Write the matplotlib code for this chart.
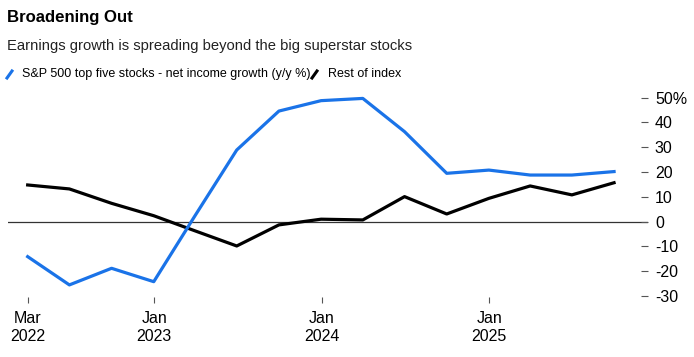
import pandas as pd
import matplotlib.pyplot as plt
from matplotlib.lines import Line2D

plt.rcParams['font.family'] = ['Liberation Sans', 'DejaVu Sans']

# quarter-end dates, Mar 2022 .. Sep 2025
dates = pd.date_range('2022-03-31', '2025-09-30', freq='QE')
top_five = [-14.1, -25.5, -18.8, -24.2, 2.4, 28.9, 44.6, 48.8, 49.7, 36.3, 19.5, 20.8, 18.8, 18.8, 20.2]
rest_of_index = [14.8, 13.2, 7.4, 2.4, -3.7, -9.8, -1.3, 1.0, 0.7, 10.1, 3.1, 9.4, 14.4, 10.8, 15.7]

xtick_dates = [dates[0], pd.Timestamp('2023-01-01'), pd.Timestamp('2024-01-01'), pd.Timestamp('2025-01-01')]
xtick_labels = ['Mar\n2022', 'Jan\n2023', 'Jan\n2024', 'Jan\n2025']
ytick_vals = [50, 40, 30, 20, 10, 0, -10, -20, -30]
ytick_labels = ['50%', '40', '30', '20', '10', '0', '-10', '-20', '-30']

BLUE = '#1a73e8'


def main():
	fig = plt.figure(figsize=(6.94, 3.57), dpi=100)
	ax = fig.add_axes([0.0115, 0.1672, 0.9222, 0.5731])

	ax.axhline(0, color='#333333', linewidth=0.9, zorder=1)
	ax.plot(dates, rest_of_index, color='black', linewidth=2.3, zorder=3)
	ax.plot(dates, top_five, color=BLUE, linewidth=2.3, zorder=4)

	# x limits from pixel positions of the zero line
	step = (dates[-1] - dates[0]) / 14
	ax.set_xlim(dates[0] - step * 0.47, dates[-1] + step * 0.81)
	ax.set_ylim(-30.5, 52)

	for s in ax.spines.values():
		s.set_visible(False)

	ax.set_xticks(xtick_dates)
	ax.set_xticklabels(xtick_labels, fontsize=11.5, linespacing=1.2)
	ax.tick_params(axis='x', length=4, width=0.8, color='#555555', pad=6, direction='out')

	ax.yaxis.tick_right()
	ax.set_yticks(ytick_vals)
	ax.set_yticklabels(ytick_labels, fontsize=11.5)
	ax.tick_params(axis='y', length=5, width=0.8, color='#555555', pad=5, direction='in')

	fig.text(0.010, 0.952, 'Broadening Out', fontsize=12.1, fontweight='bold', va='center', ha='left')
	fig.text(0.010, 0.871, 'Earnings growth is spreading beyond the big superstar stocks',
		fontsize=10.65, va='center', ha='left', color='#222222')

	# legend: slash markers + labels
	fig.add_artist(Line2D([7 / 694, 12 / 694], [1 - 78 / 357, 1 - 71 / 357], color=BLUE, linewidth=2.2))
	fig.text(22 / 694, 1 - 74 / 357, 'S&P 500 top five stocks - net income growth (y/y %)',
		fontsize=9.0, va='center', ha='left')
	fig.add_artist(Line2D([312 / 694, 317 / 694], [1 - 78 / 357, 1 - 71 / 357], color='black', linewidth=2.2))
	fig.text(328 / 694, 1 - 74 / 357, 'Rest of index', fontsize=9.0, va='center', ha='left')

	fig.savefig('out.png', dpi=100)


if __name__ == '__main__':
	main()
